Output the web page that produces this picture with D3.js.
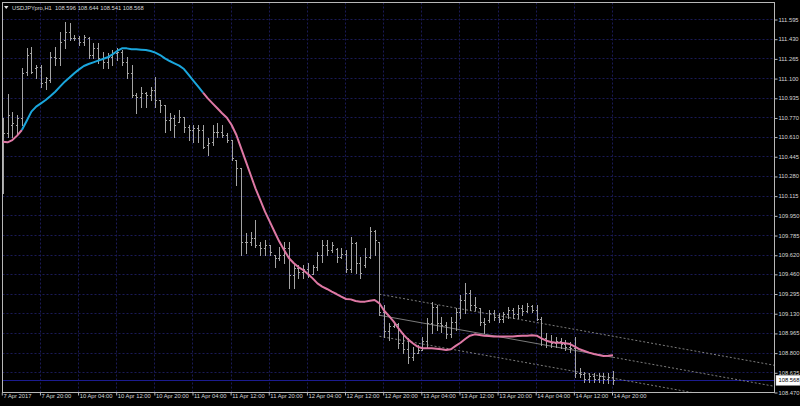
<!DOCTYPE html>
<html><head><meta charset="utf-8">
<script src="https://cdn.jsdelivr.net/npm/d3@7"></script>
<style>html,body{margin:0;padding:0;background:#000;} svg{display:block;}</style>
</head><body>
<svg id="chart" width="800" height="406"></svg>
<script>
// ---------------- DATA ----------------
const symbolTitle = "USDJPYpro,H1";
const titleValues = ["108.596", "108.644", "108.541", "108.568"];

const opens = [110.288,110.637,110.707,110.707,110.763,111.154,111.307,111.182,111.196,111.070,
111.084,111.279,111.265,111.419,111.489,111.433,111.433,111.405,111.433,111.293,
111.349,111.265,111.238,111.279,111.307,111.321,111.238,111.140,110.958,110.944,
110.972,110.958,111.000,110.917,110.875,110.749,110.763,110.735,110.777,110.693,
110.665,110.679,110.665,110.539,110.567,110.651,110.645,110.623,110.581,110.414,
110.344,109.730,109.730,109.757,109.702,109.674,109.702,109.618,109.590,109.618,
109.674,109.450,109.506,109.478,109.500,109.460,109.520,109.620,109.700,109.660,
109.670,109.600,109.630,109.500,109.720,109.550,109.530,109.600,109.820,109.730,
109.140,108.980,109.020,109.040,108.880,108.830,108.760,108.800,108.822,108.900,
109.050,109.180,109.050,109.030,108.960,109.060,109.140,109.240,109.300,109.200,
109.170,109.060,109.070,109.130,109.100,109.080,109.120,109.160,109.120,109.170,
109.150,109.190,109.160,109.080,108.920,108.900,108.880,108.900,108.870,108.850,
108.840,108.630,108.620,108.580,108.600,108.580,108.600,108.580,108.596];

const highs = [110.763,110.967,110.819,110.791,111.182,111.349,111.363,111.210,111.210,111.112,
111.321,111.363,111.489,111.573,111.559,111.461,111.455,111.461,111.447,111.391,
111.391,111.321,111.307,111.335,111.349,111.335,111.279,111.210,110.972,111.028,
110.986,111.028,111.112,110.917,110.875,110.805,110.791,110.833,110.777,110.707,
110.707,110.707,110.707,110.595,110.707,110.721,110.707,110.637,110.581,110.414,
110.344,109.799,109.813,109.911,109.730,109.743,109.702,109.618,109.688,109.730,
109.730,109.548,109.534,109.534,109.548,109.534,109.646,109.744,109.744,109.730,
109.674,109.674,109.660,109.771,109.730,109.604,109.674,109.855,109.827,109.730,
109.199,109.045,109.059,109.045,108.962,108.920,108.850,108.864,108.934,109.087,
109.227,109.199,109.101,109.059,109.101,109.171,109.283,109.381,109.325,109.269,
109.171,109.087,109.157,109.157,109.129,109.143,109.185,109.171,109.199,109.199,
109.213,109.199,109.199,109.101,108.962,108.948,108.934,108.920,108.906,108.892,
108.934,108.668,108.640,108.632,108.626,108.632,108.626,108.626,108.644];

const lows = [110.134,110.609,110.609,110.623,110.707,111.126,111.140,111.098,111.028,111.009,
111.070,111.210,111.210,111.349,111.419,111.419,111.377,111.377,111.265,111.265,
111.224,111.182,111.182,111.210,111.252,111.210,111.098,110.944,110.805,110.861,
110.861,110.917,110.861,110.819,110.651,110.665,110.609,110.735,110.651,110.581,
110.567,110.567,110.511,110.456,110.539,110.609,110.609,110.567,110.414,110.204,
109.618,109.632,109.702,109.688,109.618,109.618,109.618,109.520,109.576,109.548,
109.339,109.339,109.422,109.422,109.431,109.455,109.492,109.562,109.618,109.646,
109.562,109.590,109.478,109.478,109.464,109.422,109.520,109.590,109.618,109.115,
108.934,108.906,109.017,108.836,108.794,108.710,108.738,108.794,108.822,108.850,
108.962,108.990,108.976,108.920,108.934,108.990,109.087,109.129,109.157,109.157,
109.031,108.962,109.059,109.073,109.059,109.059,109.087,109.087,109.087,109.115,
109.143,109.143,109.073,108.864,108.850,108.850,108.850,108.836,108.822,108.808,
108.598,108.598,108.556,108.556,108.556,108.556,108.548,108.542,108.541];

const closes = [110.637,110.791,110.721,110.763,111.140,111.293,111.154,111.196,111.056,111.098,
111.279,111.265,111.405,111.489,111.433,111.439,111.405,111.447,111.293,111.349,
111.265,111.238,111.279,111.307,111.321,111.238,111.140,110.958,110.944,110.972,
110.958,111.000,110.917,110.875,110.749,110.763,110.707,110.777,110.693,110.665,
110.679,110.665,110.525,110.553,110.651,110.645,110.623,110.581,110.428,110.344,
109.730,109.730,109.757,109.702,109.674,109.702,109.646,109.590,109.618,109.674,
109.450,109.506,109.478,109.500,109.460,109.520,109.620,109.700,109.660,109.700,
109.600,109.630,109.500,109.720,109.550,109.470,109.600,109.820,109.740,109.140,
108.980,109.020,109.050,108.880,108.830,108.760,108.800,108.820,108.900,109.050,
109.180,109.050,109.030,108.960,109.060,109.140,109.240,109.300,109.200,109.180,
109.060,109.040,109.130,109.100,109.080,109.120,109.160,109.120,109.170,109.150,
109.190,109.160,109.080,108.920,108.900,108.880,108.900,108.870,108.850,108.840,
108.630,108.620,108.580,108.600,108.580,108.600,108.580,108.596,108.568];

const maValues = [110.567,110.562,110.581,110.618,110.665,110.740,110.819,110.861,110.888,110.916,
110.950,110.986,111.028,111.070,111.104,111.140,111.173,111.201,111.218,111.232,
111.246,111.260,111.274,111.299,111.327,111.349,111.349,111.341,111.341,111.338,
111.335,111.327,111.313,111.293,111.265,111.243,111.224,111.204,111.176,111.126,
111.076,111.028,110.978,110.930,110.888,110.847,110.805,110.768,110.707,110.623,
110.511,110.400,110.288,110.176,110.079,109.981,109.897,109.813,109.730,109.660,
109.593,109.551,109.517,109.492,109.459,109.422,109.380,109.353,109.333,109.311,
109.291,109.269,109.249,109.246,109.232,109.227,109.227,109.235,109.241,109.213,
109.151,109.107,109.059,109.003,108.953,108.911,108.878,108.850,108.836,108.836,
108.836,108.833,108.828,108.822,108.828,108.856,108.883,108.914,108.942,108.953,
108.948,108.942,108.939,108.934,108.934,108.934,108.934,108.934,108.939,108.942,
108.942,108.945,108.942,108.920,108.900,108.889,108.883,108.883,108.878,108.872,
108.850,108.828,108.814,108.800,108.788,108.780,108.772,108.774,108.777];

const maTrend = [
  {from: 0, to: 4, dir: "down"},
  {from: 4, to: 42, dir: "up"},
  {from: 42, to: 128, dir: "down"}
];

const priceTicks = ["111.595","111.430","111.265","111.100","110.935","110.770","110.610","110.445",
"110.280","110.115","109.950","109.785","109.620","109.460","109.295","109.130","108.965",
"108.800","108.635","108.470"];

const timeLabels = ["7 Apr 2017","7 Apr 20:00","10 Apr 04:00","10 Apr 12:00","10 Apr 20:00",
"11 Apr 04:00","11 Apr 12:00","11 Apr 20:00","12 Apr 04:00","12 Apr 12:00","12 Apr 20:00",
"13 Apr 04:00","13 Apr 12:00","13 Apr 20:00","14 Apr 04:00","14 Apr 12:00","14 Apr 20:00"];
const timeLabelBars = [0,8,16,24,32,40,48,56,64,72,80,88,96,104,112,120,128];

const lastPrice = 108.568;
const regStart = {bar: 79, price: 109.113};
const regEnd = {bar: 128, price: 108.761};
const regDeviation = 0.176;

// ---------------- LAYOUT / STYLE ----------------
const W = 800, H = 406;
const plot = {left: 2.5, right: 774.5, top: 2.5, bottom: 392.5};
const FONT = "'Liberation Sans', Arial, sans-serif";
const FS = 5.8;
const textColor = "#d6d6d6";
const gridColor = "#1a1a56";
const barColor = "#a4a4a4";
const upColor = "#1aa6dc";
const downColor = "#de78a4";

const svg = d3.select("#chart");
svg.append("rect").attr("width", W).attr("height", H).attr("fill", "#000");

const x = d3.scaleLinear().domain([0, 128]).range([2.8, 613]);
const y = d3.scaleLinear().domain([108.470, 111.595]).range([392, 19]);

svg.append("defs").append("clipPath").attr("id", "clip")
  .append("rect").attr("x", plot.left).attr("y", plot.top)
  .attr("width", plot.right - plot.left).attr("height", plot.bottom - plot.top);

const crisp = v => Math.round(v) + 0.5;

// grid
const grid = svg.append("g").attr("clip-path", "url(#clip)");
priceTicks.forEach(t => {
  const yy = crisp(y(+t));
  grid.append("line").attr("x1", plot.left).attr("x2", plot.right)
    .attr("y1", yy).attr("y2", yy)
    .attr("stroke", gridColor).attr("stroke-width", 1).attr("stroke-dasharray", "2,2");
});
timeLabelBars.forEach(b => {
  const xx = crisp(x(b) - 1);
  grid.append("line").attr("x1", xx).attr("x2", xx)
    .attr("y1", plot.top).attr("y2", plot.bottom)
    .attr("stroke", gridColor).attr("stroke-width", 1).attr("stroke-dasharray", "2,2");
});

// last price line
grid.append("line").attr("x1", plot.left).attr("x2", plot.right)
  .attr("y1", crisp(y(lastPrice))).attr("y2", crisp(y(lastPrice)))
  .attr("stroke", "#1c1c90").attr("stroke-width", 1);

// regression channel
const slope = (regEnd.price - regStart.price) / (regEnd.bar - regStart.bar);
const endBar = x.invert(plot.right);
const priceAt = (b, off) => regStart.price + slope * (b - regStart.bar) + off;
const reg = svg.append("g").attr("clip-path", "url(#clip)");
[-regDeviation, regDeviation].forEach(off => {
  reg.append("line")
    .attr("x1", x(regStart.bar)).attr("y1", y(priceAt(regStart.bar, off)))
    .attr("x2", x(endBar)).attr("y2", y(priceAt(endBar, off)))
    .attr("stroke", "#7c7c7c").attr("stroke-width", 1).attr("stroke-dasharray", "2,2");
});
reg.append("line")
  .attr("x1", x(regStart.bar)).attr("y1", y(regStart.price))
  .attr("x2", x(regEnd.bar)).attr("y2", y(regEnd.price))
  .attr("stroke", "#7a7a7a").attr("stroke-width", 1);
reg.append("line")
  .attr("x1", x(regEnd.bar)).attr("y1", y(regEnd.price))
  .attr("x2", x(endBar)).attr("y2", y(priceAt(endBar, 0)))
  .attr("stroke", "#7c7c7c").attr("stroke-width", 1).attr("stroke-dasharray", "2,2");

// OHLC bars
const bars = svg.append("g").attr("clip-path", "url(#clip)")
  .attr("stroke", barColor).attr("stroke-width", 1);
const idx = d3.range(opens.length);
bars.selectAll("g.bar").data(idx).join("g").attr("class", "bar").each(function(i) {
  const g = d3.select(this);
  const xx = crisp(x(i));
  g.append("line").attr("x1", xx).attr("x2", xx)
    .attr("y1", Math.round(y(highs[i]))).attr("y2", Math.round(y(lows[i])) + 1);
  const yo = crisp(y(opens[i])), yc = crisp(y(closes[i]));
  g.append("line").attr("x1", xx - 1.5).attr("x2", xx).attr("y1", yo).attr("y2", yo);
  g.append("line").attr("x1", xx).attr("x2", xx + 1.5).attr("y1", yc).attr("y2", yc);
});

// MA line
const maLine = d3.line().x(i => x(i)).y(i => y(maValues[i]));
const ma = svg.append("g").attr("clip-path", "url(#clip)");
maTrend.forEach(s => {
  ma.append("path").attr("d", maLine(d3.range(s.from, s.to + 1)))
    .attr("fill", "none").attr("stroke", s.dir === "up" ? upColor : downColor)
    .attr("stroke-width", 2).attr("stroke-linejoin", "round");
});

// frame
svg.append("rect").attr("x", plot.left).attr("y", plot.top)
  .attr("width", plot.right - plot.left).attr("height", plot.bottom - plot.top)
  .attr("fill", "none").attr("stroke", "#b8b8b8").attr("stroke-width", 1);

// price axis
const yAxis = d3.axisRight(y)
  .tickValues(priceTicks.map(Number))
  .tickFormat((d, i) => priceTicks[i])
  .tickSize(3).tickPadding(1);
const ya = svg.append("g").attr("transform", `translate(${plot.right},0)`).call(yAxis);
ya.select(".domain").remove();
ya.selectAll(".tick line").attr("stroke", "#b8b8b8").attr("transform", "translate(0,0.5)");
ya.selectAll(".tick text").attr("fill", textColor).attr("font-family", FONT)
  .attr("font-size", FS).attr("dy", "0.35em");

// time axis
const xAxis = d3.axisBottom(x)
  .tickValues(timeLabelBars)
  .tickFormat((d, i) => timeLabels[i])
  .tickSize(3).tickPadding(1);
const xa = svg.append("g").attr("transform", `translate(-0.5,${plot.bottom})`).call(xAxis);
xa.select(".domain").remove();
xa.selectAll(".tick line").attr("stroke", "#b8b8b8").attr("transform", "translate(-0.5,0)");
xa.selectAll(".tick text").attr("fill", textColor).attr("font-family", FONT)
  .attr("font-size", FS).attr("text-anchor", "start").attr("dx", "0.1em").attr("dy", "0.3em");

// last price label
const lp = svg.append("g").attr("transform", `translate(${plot.right + 1},${y(lastPrice)})`);
lp.append("rect").attr("x", 0.5).attr("y", -5).attr("width", 24).attr("height", 10)
  .attr("fill", "#ffffff").attr("stroke", "#c0c0c0").attr("stroke-width", 0.5);
lp.append("text").attr("x", 3).attr("y", 0).attr("dy", "0.35em")
  .attr("font-family", FONT).attr("font-size", FS).attr("fill", "#000")
  .text(lastPrice.toFixed(3));

// title
svg.append("path").attr("d", "M4,6 L8.5,6 L6.25,9 Z").attr("fill", "#e0e0e0");
svg.append("text").attr("x", 12).attr("y", 9.5)
  .attr("font-family", FONT).attr("font-size", FS).attr("fill", textColor)
  .attr("xml:space", "preserve")
  .text(symbolTitle + "  " + titleValues.join(" "));
</script>
</body></html>
